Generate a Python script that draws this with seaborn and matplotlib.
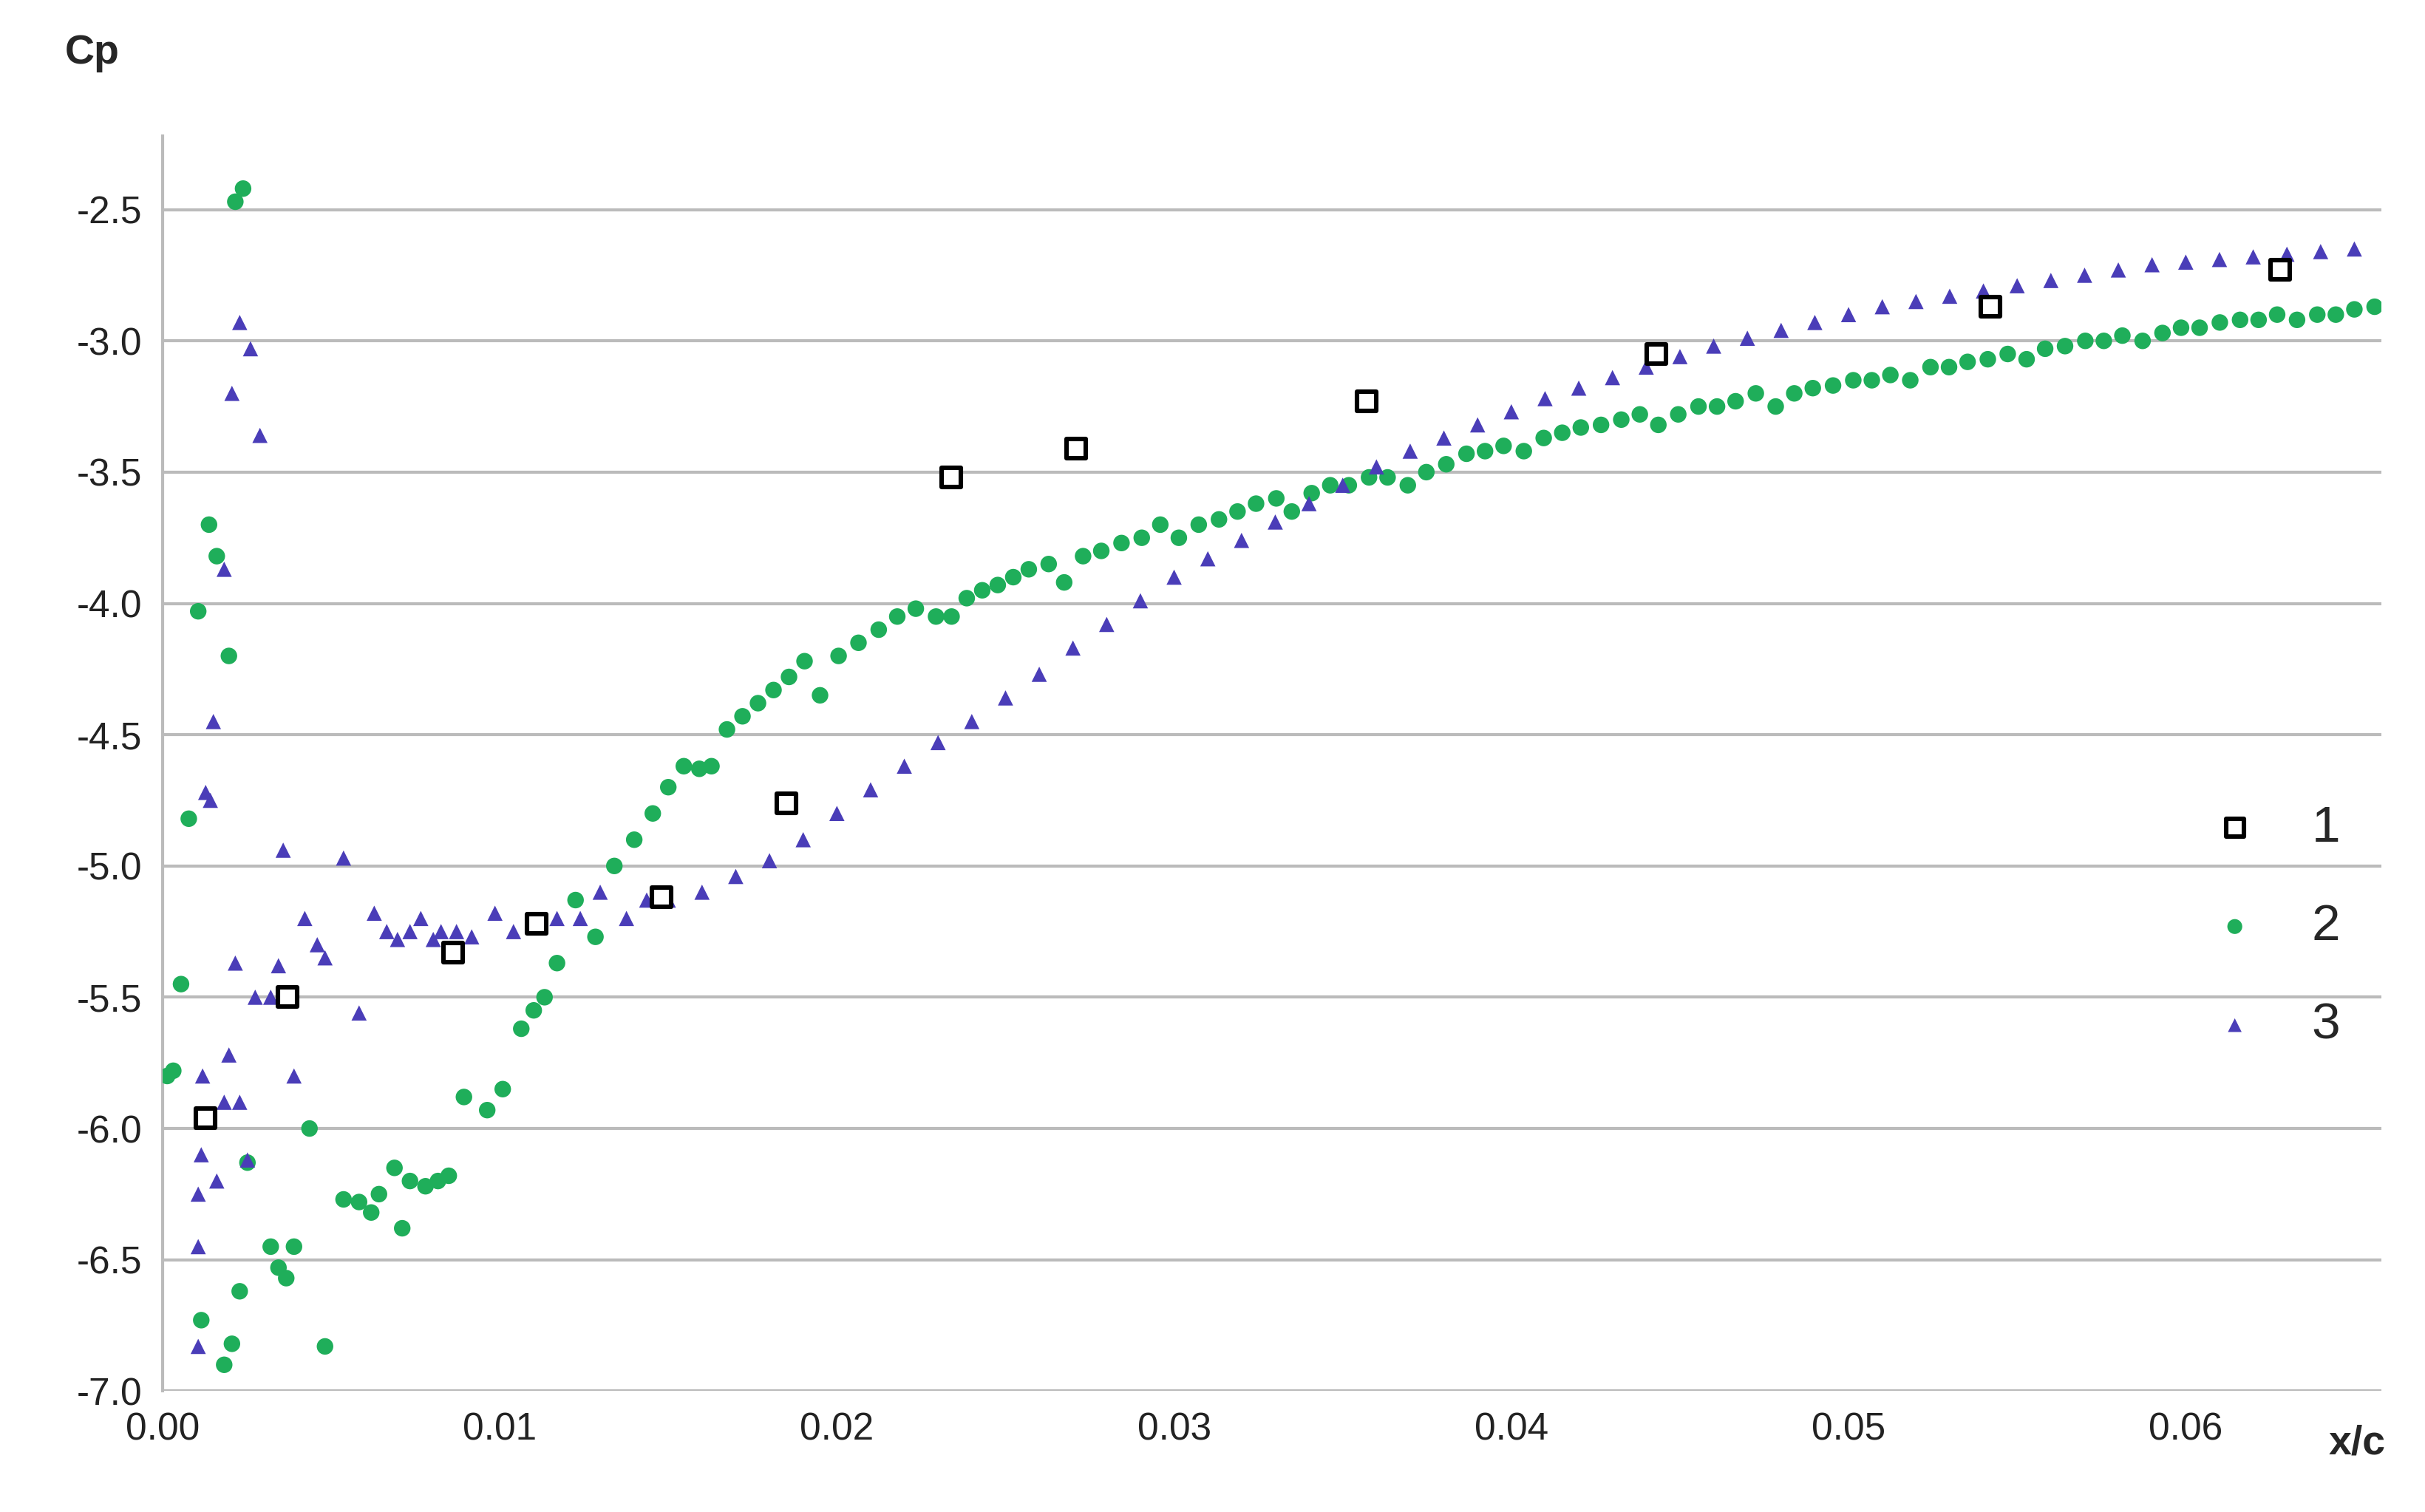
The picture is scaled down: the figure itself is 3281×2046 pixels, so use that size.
import matplotlib
matplotlib.use("Agg")
import matplotlib.pyplot as plt
import seaborn as sns
import pandas as pd

s1_x = [0.00128, 0.0037, 0.00862, 0.0111, 0.0148, 0.0185, 0.0234, 0.0271, 0.0357, 0.0443, 0.0542, 0.0628]
s1_y = [-5.96, -5.5, -5.33, -5.22, -5.12, -4.76, -3.52, -3.41, -3.23, -3.05, -2.87, -2.73]

s2_x = [.00055, .00014, .00032, .00078, .00106, .00115, .00138, .00161, .00183, .00197, .00206, .00216, .00239, .00229, .00252,
        .00321, .00344, .00367, .0039, .00436, .00482, .00537, .00583, .00619, .00642, .00688, .00711, .00734, .0078, .00817,
        .00849, .00894, .00963, .01009, .01064, .01101, .01133, .0117, .01225, .01284, .0134, .01399, .01454, .015, .01546,
        .01592, .01628, .01674, .0172, .01766, .01812, .01858, .01904, .0195, .02005, .02064, .02124, .02179, .02234, .02294,
        .0234, .02385, .02431, .02477, .02523, .02569, .02628, .02674, .0273, .02784, .02844, .02904, .02959, .03014, .03073,
        .03133, .03188, .03243, .03303, .03349, .03408, .03463, .03518, .03578, .03633, .03693, .03748, .03807, .03867, .03922,
        .03977, .04037, .04096, .04151, .04206, .04266, .04326, .04381, .04436, .04495, .04555, .0461, .04665, .04725, .04784,
        .04839, .04894, .04954, .05014, .05069, .05124, .05183, .05243, .05298, .05353, .05413, .05472, .05528, .05583, .05642,
        .05702, .05757, .05812, .05872, .05931, .05986, .06041, .06101, .06161, .06216, .06271, .0633, .0639, .06445, .065, .0656]
s2_y = [-5.45, -5.8, -5.78, -4.82, -4.03, -6.73, -3.7, -3.82, -6.9, -4.2, -6.82, -2.47, -2.42, -6.62, -6.13,
        -6.45, -6.53, -6.57, -6.45, -6.0, -6.83, -6.27, -6.28, -6.32, -6.25, -6.15, -6.38, -6.2, -6.22, -6.2,
        -6.18, -5.88, -5.93, -5.85, -5.62, -5.55, -5.5, -5.37, -5.13, -5.27, -5.0, -4.9, -4.8, -4.7, -4.62,
        -4.63, -4.62, -4.48, -4.43, -4.38, -4.33, -4.28, -4.22, -4.35, -4.2, -4.15, -4.1, -4.05, -4.02, -4.05,
        -4.05, -3.98, -3.95, -3.93, -3.9, -3.87, -3.85, -3.92, -3.82, -3.8, -3.77, -3.75, -3.7, -3.75, -3.7,
        -3.68, -3.65, -3.62, -3.6, -3.65, -3.58, -3.55, -3.55, -3.52, -3.52, -3.55, -3.5, -3.47, -3.43, -3.42,
        -3.4, -3.42, -3.37, -3.35, -3.33, -3.32, -3.3, -3.28, -3.32, -3.28, -3.25, -3.25, -3.23, -3.2, -3.25,
        -3.2, -3.18, -3.17, -3.15, -3.15, -3.13, -3.15, -3.1, -3.1, -3.08, -3.07, -3.05, -3.07, -3.03, -3.02,
        -3.0, -3.0, -2.98, -3.0, -2.97, -2.95, -2.95, -2.93, -2.92, -2.92, -2.9, -2.92, -2.9, -2.9, -2.88, -2.87]

s3_x = [.00106, .00106, .00106, .00115, .00119, .00128, .00142, .00151, .00183, .00206, .00229, .00261, .00289, .00161, .00183,
        .00197, .00216, .00229, .00252, .00275, .00321, .00344, .00358, .0039, .00422, .00459, .00482, .00537, .00583, .00628,
        .00665, .00697, .00734, .00766, .00803, .00826, .00872, .00917, .00986, .01041, .01101, .0117, .01239, .01298, .01376,
        .01436, .015, .016, .017, .018, .019, .020, .021, .022, .023, .024, .025, .026, .027, .028, .029, .030, .031, .032,
        .033, .034, .035, .036, .037, .038, .039, .040, .041, .042, .043, .044, .045, .046, .047, .048, .049, .050, .051,
        .052, .053, .054, .055, .056, .057, .058, .059, .060, .061, .062, .063, .064, .065]
s3_y = [-6.83, -6.45, -6.25, -6.1, -5.8, -4.72, -4.75, -4.45, -3.87, -3.2, -2.93, -3.03, -3.36, -6.2, -5.9,
        -5.72, -5.37, -5.9, -6.12, -5.5, -5.5, -5.38, -4.94, -5.8, -5.2, -5.3, -5.35, -4.97, -5.56, -5.18,
        -5.25, -5.28, -5.25, -5.2, -5.28, -5.25, -5.25, -5.27, -5.18, -5.25, -5.22, -5.2, -5.2, -5.1, -5.2,
        -5.13, -5.13, -5.1, -5.04, -4.98, -4.9, -4.8, -4.71, -4.62, -4.53, -4.45, -4.36, -4.27, -4.17, -4.08, -3.99, -3.9, -3.83, -3.76,
        -3.69, -3.62, -3.55, -3.48, -3.42, -3.37, -3.32, -3.27, -3.22, -3.18, -3.14, -3.1, -3.06, -3.02, -2.99, -2.96, -2.93, -2.9, -2.87,
        -2.85, -2.83, -2.81, -2.79, -2.77, -2.75, -2.73, -2.71, -2.7, -2.69, -2.68, -2.67, -2.66, -2.65]

labels = ["1", "2", "3"]
xticks = [0.00, 0.01, 0.02, 0.03, 0.04, 0.05, 0.06]
yticks = [-2.5, -3.0, -3.5, -4.0, -4.5, -5.0, -5.5, -6.0, -6.5, -7.0]

sns.set_theme(style="white")
plt.rcParams['font.family'] = ['Liberation Sans', 'DejaVu Sans']

fig = plt.figure(figsize=(16.405, 10.23), dpi=200)
ax = fig.add_axes([0.067, 0.08, 0.915, 0.83])

green = "#1fae5a"
purple = "#4a3db8"
sns.scatterplot(x=s2_x, y=s2_y, ax=ax, marker="o", s=65, color=green, edgecolor="none", label=labels[1], zorder=3)
sns.scatterplot(x=s3_x, y=s3_y, ax=ax, marker="^", s=55, color=purple, edgecolor="none", label=labels[2], zorder=3)
sns.scatterplot(x=s1_x, y=s1_y, ax=ax, marker="s", s=85, facecolor="white", edgecolor="black", linewidth=2.2, label=labels[0], zorder=4)

ax.set_xlim(0.0, 0.0658)
ax.set_ylim(-7.0, -2.22)
ax.set_xticks(xticks)
ax.set_xticklabels([f"{v:.2f}" for v in xticks])
ax.set_yticks(yticks)
ax.set_yticklabels([f"{v:.1f}" for v in yticks])
ax.tick_params(labelsize=18.5, length=0, pad=10)
for lbl in ax.get_xticklabels() + ax.get_yticklabels():
    lbl.set_color("#222222")
ax.yaxis.grid(True, color="#bbbbbb", linewidth=1.5)
ax.xaxis.grid(False)
for s in ["top", "right", "bottom"]:
    ax.spines[s].set_visible(False)
ax.spines["left"].set_color("#bbbbbb")
ax.spines["left"].set_linewidth(1.5)
ax.set_xlabel("")
ax.set_ylabel("")

fig.text(0.038, 0.965, "Cp", fontsize=20, fontweight="bold", ha="center", va="center")
fig.text(0.972, 0.045, "x/c", fontsize=20, fontweight="bold", ha="center", va="center")

h, l = ax.get_legend_handles_labels()
order = [l.index(k) for k in labels]
ax.legend([h[i] for i in order], [l[i] for i in order], loc="center left",
          bbox_to_anchor=(0.89, 0.37), frameon=False, fontsize=25,
          labelspacing=1.0, handletextpad=0.5, markerscale=0.9)

fig.savefig("out.png", dpi=200)
